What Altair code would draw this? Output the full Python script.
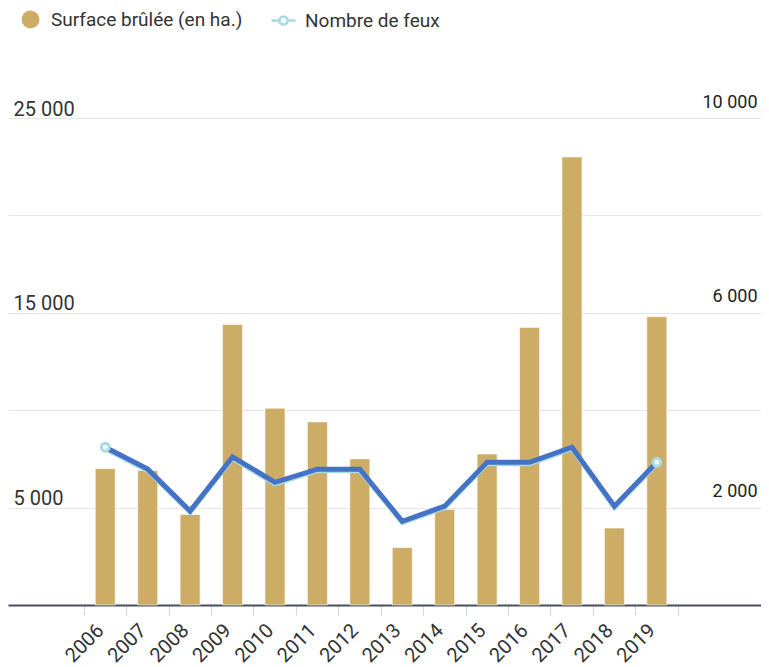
import altair as alt
import pandas as pd

years = list(range(2006, 2020))
surface = [7000, 6900, 4650, 14400, 10100, 9400, 7500, 2950, 4900, 7750, 14250, 23000, 3950, 14800]
feux = [3240, 2790, 1930, 3040, 2520, 2790, 2790, 1720, 2030, 2930, 2930, 3240, 2030, 2930]
series = ["Surface brûlée (en ha.)", "Nombre de feux"]
left_ticks = [0, 5000, 10000, 15000, 20000, 25000]
right_ticks = [0, 2000, 4000, 6000, 8000, 10000]
x_ticks = list(range(2006, 2021))

GOLD = "#CDAC66"
LIGHT = "#A9D9E4"
DARK = "#4472C4"
W, H = 753, 546
STEP = 43.0
X0 = 2006 - 93.5 / STEP
X1 = X0 + W / STEP
LMAX = 25000 * H / 487
RMAX = LMAX * 0.4

df = pd.DataFrame({"year": years, "surface": surface, "feux": feux})
df["s1"] = series[0]
df["s2"] = series[1]
df["end"] = [i in (0, len(years) - 1) for i in range(len(years))]

xscale = alt.Scale(domain=[X0, X1], nice=False, zero=False)
xaxis = alt.Axis(
    values=x_ticks, title=None, grid=False,
    labelExpr="datum.value < 2020 ? toString(datum.value) : ''",
    labelAngle=-45, labelAlign="right", labelBaseline="middle", labelOverlap=False,
    labelFontSize=20, labelColor="#333333", labelFont="Roboto",
    tickSize=10, tickColor="#ccd6eb", tickWidth=1,
    tickOffset=-STEP / 2, labelOffset=STEP / 2 - 5, labelPadding=12,
    domainColor="#4a4f5c", domainWidth=2,
)
x = alt.X("year:Q", scale=xscale, axis=xaxis)

legend_common = dict(
    title=None, orient="none", legendY=-49, direction="horizontal",
    padding=0, labelOffset=11, symbolSize=324, labelLimit=400,
    labelFontSize=19, labelColor="#333333", labelFont="Roboto",
)

color = alt.Color(
    "s1:N",
    scale=alt.Scale(domain=[series[0]], range=[GOLD]),
    legend=alt.Legend(legendX=13, symbolType="circle", symbolStrokeWidth=0, symbolOpacity=1, **legend_common),
)
stroke = alt.Stroke(
    "s2:N",
    scale=alt.Scale(domain=[series[1]], range=[LIGHT]),
    legend=alt.Legend(
        legendX=265,
        symbolType="M-1.35,0L-0.45,0M0.45,0L1.35,0M0.45,0A0.45,0.45,0,1,1,-0.45,0A0.45,0.45,0,1,1,0.45,0Z",
        symbolStrokeWidth=2.5, symbolFillColor="#ffffff", symbolStrokeColor=LIGHT, symbolOpacity=1,
        **legend_common,
    ),
)

left_axis = alt.Axis(
    values=left_ticks, title=None, domain=False, ticks=False,
    labelExpr="datum.value % 10000 == 5000 ? replace(format(datum.value, ','), ',', ' ') : ''",
    labelAlign="left", labelBaseline="alphabetic", labelPadding=-5, labelOffset=-3,
    labelFontSize=20, labelColor="#333333", labelFont="Roboto",
    gridColor="#e6e6e6", gridWidth=1,
)
right_axis = alt.Axis(
    values=right_ticks, title=None, domain=False, ticks=False, grid=False, orient="right",
    labelExpr="datum.value % 4000 == 2000 ? replace(format(datum.value, ','), ',', ' ') : ''",
    labelAlign="right", labelBaseline="alphabetic", labelPadding=-4, labelOffset=-11,
    labelFontSize=18, labelColor="#222222", labelFont="Roboto",
)

bars = alt.Chart(df).mark_bar(size=20, stroke="#ffffff", strokeWidth=0.6).encode(
    x=x,
    y=alt.Y("surface:Q", scale=alt.Scale(domain=[0, LMAX], nice=False), axis=left_axis),
    color=color,
)

rscale = alt.Scale(domain=[0, RMAX], nice=False)
yr = alt.Y("feux:Q", scale=rscale, axis=right_axis)

light = alt.Chart(df).mark_line(strokeWidth=4, yOffset=2).encode(x=x, y=yr, stroke=stroke)
dark = alt.Chart(df).mark_line(color=DARK, strokeWidth=5).encode(x=x, y=yr)
pts = alt.Chart(df).transform_filter("datum.end").mark_point(
    shape="circle", size=64, filled=False, stroke=LIGHT, strokeWidth=3, fill="#f4fbfd", fillOpacity=1, opacity=1
).encode(x=x, y=yr)

line_layer = alt.layer(light, dark, pts)

chart = alt.layer(bars, line_layer).resolve_scale(y="independent").properties(
    width=W, height=H,
    padding={"top": 51, "left": 0, "right": 0, "bottom": 62},
    autosize=alt.AutoSizeParams(type="none"),
).configure(background="#ffffff").configure_view(stroke=None)

chart.save("out.html", embed_options={"renderer": "svg", "actions": False})
